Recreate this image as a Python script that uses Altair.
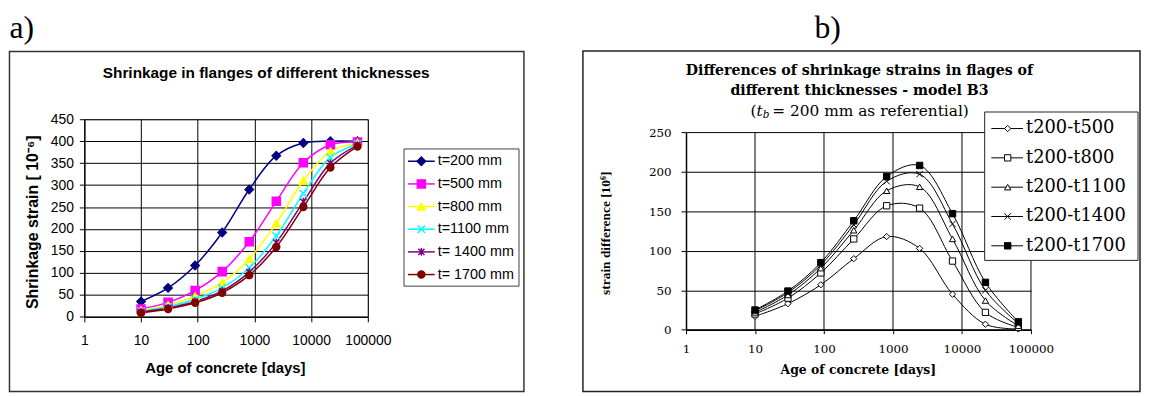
import altair as alt
import pandas as pd

# ---------------- data ----------------
ages = [10, 30, 90, 270, 810, 2430, 7290, 21870, 65610]

left_series = ["t=200 mm", "t=500 mm", "t=800 mm", "t=1100 mm", "t= 1400 mm", "t= 1700 mm"]
t200 = [35, 66, 117, 192, 290, 367, 396, 400, 400]
t500 = [18, 33, 60, 103, 171, 263, 351, 392, 398]
t800 = [15, 27, 47, 78, 132, 213, 310, 377, 396]
t1100 = [13, 23, 40, 66, 112, 184, 281, 363, 394]
t1400 = [11, 20, 35, 59, 102, 169, 262, 350, 391]
t1700 = [9, 18, 32, 55, 95, 159, 250, 340, 388]
left_values = [t200, t500, t800, t1100, t1400, t1700]

right_series = ["t200-t500", "t200-t800", "t200-t1100", "t200-t1400", "t200-t1700"]
d500 = [17, 33, 57, 90, 118, 103, 45, 7, 1]
d800 = [20, 40, 72, 115, 157, 154, 87, 22, 3]
d1100 = [22, 44, 78, 126, 176, 181, 115, 37, 5]
d1400 = [24, 47, 82, 133, 188, 197, 134, 50, 8]
d1700 = [25, 49, 85, 138, 194, 208, 147, 60, 10]
right_values = [d500, d800, d1100, d1400, d1700]

x_ticks = [1, 10, 100, 1000, 10000, 100000]
x_inner_grid = [10, 100, 1000, 10000]
left_y_ticks = [0, 50, 100, 150, 200, 250, 300, 350, 400, 450]
right_y_ticks = [0, 50, 100, 150, 200, 250]

left_colors = ["#000080", "#FF00FF", "#FFFF00", "#00FFFF", "#800080", "#800000"]
X_PATH = "M-1,-1L1,1M-1,1L1,-1"
STAR_PATH = "M-0.85,-0.85L0.85,0.85M-0.85,0.85L0.85,-0.85M0,-1.1L0,1.1"
left_shapes = ["diamond", "square", "triangle-up", X_PATH, STAR_PATH, "circle"]
left_sizes = [70, 49, 60, 50, 55, 64]

right_shapes = ["diamond", "square", "triangle-up", X_PATH, "square"]
right_fills = ["white", "white", "white", "white", "black"]
right_sizes = [40, 42, 52, 36, 56]


def long_df(key, names, vals):
    rows = []
    for n, v in zip(names, vals):
        for a, y in zip(ages, v):
            rows.append({key: n, "age": a, "value": y})
    return pd.DataFrame(rows)


df_l = long_df("series", left_series, left_values)
df_r = long_df("pair", right_series, right_values)
leg_l = pd.DataFrame({"series": left_series})
leg_r = pd.DataFrame({"pair": right_series})
grid_r = pd.DataFrame({"age": x_inner_grid})
one = pd.DataFrame({"k": [0]})

SANS = "Liberation Sans"
SERIF = "Liberation Serif"
WIDE = "DejaVu Serif"


def txt(s, x, y, size, font, weight="normal", align="center", baseline="middle",
        angle=0, style="normal"):
    kw = dict(text=s, fontSize=size, font=font, fontWeight=weight, align=align,
              baseline=baseline, color="black", fontStyle=style)
    if angle:
        kw["angle"] = angle
    return alt.Chart(one).mark_text(**kw).encode(x=alt.value(x), y=alt.value(y))


def frame(x1, x2, y1, y2, color, width, fill="transparent"):
    return alt.Chart(one).mark_rect(fill=fill, stroke=color, strokeWidth=width).encode(
        x=alt.value(x1), x2=alt.value(x2), y=alt.value(y1), y2=alt.value(y2))


LABEL_Y = 11.5  # page y of the panel letters (top baseline)

# ---------------- left panel ----------------
WL, HL = 286, 199.4
OX_L, OY_L = 83.5, 118.3
col_l = alt.Scale(domain=left_series, range=left_colors)
shp_l = alt.Scale(domain=left_series, range=left_shapes)
siz_l = alt.Scale(domain=left_series, range=left_sizes)
xs_l = alt.Scale(type="log", domain=[1, 100000], nice=False)
ys_l = alt.Scale(domain=[0, 450], nice=False, zero=True)

x_axis_l = alt.Axis(values=x_ticks, format="d", grid=True, gridColor="black", gridOpacity=1,
                    gridWidth=1, domainColor="black", tickColor="black", tickSize=5,
                    labelFont=SANS, labelFontSize=14, labelColor="black", labelPadding=12,
                    labelFlush=False, labelOverlap=False, title=None)
y_axis_l = alt.Axis(values=left_y_ticks, grid=True, gridColor="black", gridOpacity=1,
                    gridWidth=1, domainColor="black", tickColor="black", tickSize=5,
                    labelFont=SANS, labelFontSize=14, labelColor="black", labelPadding=6,
                    labelFlush=False, labelOverlap=False, title=None)

lines_l = alt.Chart(df_l).mark_line(interpolate="catmull-rom", strokeWidth=1.5).encode(
    x=alt.X("age:Q", scale=xs_l, axis=x_axis_l),
    y=alt.Y("value:Q", scale=ys_l, axis=y_axis_l),
    color=alt.Color("series:N", scale=col_l, legend=None),
    detail="series:N",
)
pts_l = alt.Chart(df_l).mark_point(filled=True, opacity=1, strokeWidth=1.5).encode(
    x=alt.X("age:Q", scale=xs_l, axis=x_axis_l),
    y=alt.Y("value:Q", scale=ys_l, axis=None),
    color=alt.Color("series:N", scale=col_l, legend=None),
    stroke=alt.Stroke("series:N", scale=col_l, legend=None),
    shape=alt.Shape("series:N", scale=shp_l, legend=None),
    size=alt.Size("series:N", scale=siz_l, legend=None),
)

ly_l = alt.Y("series:N", scale=alt.Scale(type="point", domain=left_series,
                                         range=[160.7 - OY_L, 275.0 - OY_L], padding=0),
             axis=None)
legbox_l = frame(406 - OX_L, 522 - OX_L, 148.3 - OY_L, 286.7 - OY_L, "#404040", 1, fill="white")
leglines_l = alt.Chart(leg_l).mark_rule(strokeWidth=1.5).encode(
    x=alt.value(410 - OX_L), x2=alt.value(437 - OX_L), y=ly_l,
    color=alt.Color("series:N", scale=col_l, legend=None))
legpts_l = alt.Chart(leg_l).mark_point(filled=True, opacity=1, strokeWidth=1.5).encode(
    x=alt.value(423.5 - OX_L), y=ly_l,
    color=alt.Color("series:N", scale=col_l, legend=None),
    stroke=alt.Stroke("series:N", scale=col_l, legend=None),
    shape=alt.Shape("series:N", scale=shp_l, legend=None),
    size=alt.Size("series:N", scale=siz_l, legend=None))
legtxt_l = alt.Chart(leg_l).mark_text(align="left", baseline="middle", font=SANS,
                                      fontSize=14.5, color="black").encode(
    x=alt.value(440 - OX_L), y=ly_l, text="series:N")

left = alt.layer(
    frame(8 - OX_L, 527 - OX_L, 50 - OY_L, 393 - OY_L, "#333333", 1.5),
    lines_l, pts_l,
    legbox_l, leglines_l, legpts_l, legtxt_l,
    txt("a)", 8 - OX_L, LABEL_Y - OY_L, 32, SERIF, align="left", baseline="top"),
    txt("Shrinkage in flanges of different thicknesses", 267 - OX_L, 71.7 - OY_L, 15.5, SANS,
        weight="bold"),
    txt("Shrinkage strain [ 10\u207b\u2076]", 31.7 - OX_L, 222.3 - OY_L, 16, SANS,
        weight="bold", angle=270),
    txt("Age of concrete [days]", 225.8 - OX_L, 369.3 - OY_L, 15, SANS, weight="bold"),
).resolve_scale(y="independent").properties(
    width=WL, height=HL, view=alt.ViewBackground(stroke="#808080", strokeWidth=1))

# ---------------- right panel ----------------
# view spans page y 118.3 .. 330.7 ; the data range (0..250) spans 131.5 .. 330.7
OX_R, OY_R = 687, 118.3
WR, HR = 348, 212.4
Y_TOP = 131.5 - OY_R
shp_r = alt.Scale(domain=right_series, range=right_shapes)
fil_r = alt.Scale(domain=right_series, range=right_fills)
siz_r = alt.Scale(domain=right_series, range=right_sizes)
xs_r = alt.Scale(type="log", domain=[1, 100000], nice=False)
ys_r = alt.Scale(domain=[0, 250], nice=False, zero=True, range=[HR, Y_TOP])

x_axis_r = alt.Axis(values=x_ticks, format="d", grid=False, domainColor="black",
                    domainWidth=1.5, tickColor="black", tickSize=4, labelFont=WIDE,
                    labelFontSize=12, labelColor="black", labelPadding=10,
                    labelFlush=False, labelOverlap=False, title=None)
y_axis_r = alt.Axis(values=right_y_ticks, grid=True, gridColor="black", gridOpacity=1,
                    gridWidth=1, domainColor="black", domainWidth=1.5, tickColor="black",
                    tickSize=5, labelFont=WIDE, labelFontSize=12, labelColor="black",
                    labelPadding=10, labelFlush=False, labelOverlap=False, title=None)

vgrid_r = alt.Chart(grid_r).mark_rule(color="black", strokeWidth=1).encode(
    x=alt.X("age:Q", scale=xs_r, axis=x_axis_r),
    y=alt.value(Y_TOP), y2=alt.value(HR))
lines_r = alt.Chart(df_r).mark_line(interpolate="catmull-rom", strokeWidth=1, color="black").encode(
    x=alt.X("age:Q", scale=xs_r, axis=x_axis_r),
    y=alt.Y("value:Q", scale=ys_r, axis=y_axis_r),
    detail="pair:N",
)
pts_r = alt.Chart(df_r).mark_point(filled=True, opacity=1, stroke="black", strokeWidth=1).encode(
    x=alt.X("age:Q", scale=xs_r, axis=x_axis_r),
    y=alt.Y("value:Q", scale=ys_r, axis=None),
    fill=alt.Fill("pair:N", scale=fil_r, legend=None),
    shape=alt.Shape("pair:N", scale=shp_r, legend=None),
    size=alt.Size("pair:N", scale=siz_r, legend=None),
)

ly_r = alt.Y("pair:N", scale=alt.Scale(type="point", domain=right_series,
                                       range=[127.7 - OY_R, 246.0 - OY_R], padding=0),
             axis=None)
legbox_r = frame(988.3 - OX_R, 1143 - OX_R, 111 - OY_R, 260.7 - OY_R, "#222222", 1, fill="white")
leglines_r = alt.Chart(leg_r).mark_rule(strokeWidth=1, color="black").encode(
    x=alt.value(995 - OX_R), x2=alt.value(1027 - OX_R), y=ly_r)
legpts_r = alt.Chart(leg_r).mark_point(filled=True, opacity=1, stroke="black", strokeWidth=1).encode(
    x=alt.value(1011.5 - OX_R), y=ly_r,
    fill=alt.Fill("pair:N", scale=fil_r, legend=None),
    shape=alt.Shape("pair:N", scale=shp_r, legend=None),
    size=alt.Size("pair:N", scale=siz_r, legend=None))
legtxt_r = alt.Chart(leg_r).mark_text(align="left", baseline="middle", font=WIDE,
                                      fontSize=18, color="black").encode(
    x=alt.value(1030 - OX_R), y=ly_r, text="pair:N")

right_border = alt.Chart(one).mark_rule(color="black", strokeWidth=1).encode(
    x=alt.value(WR), y=alt.value(Y_TOP), y2=alt.value(HR))

right = alt.layer(
    frame(583 - OX_R, 1145 - OX_R, 49.5 - OY_R, 393 - OY_R, "#222222", 1.5),
    vgrid_r, right_border,
    lines_r, pts_r,
    legbox_r, leglines_r, legpts_r, legtxt_r,
    txt("b)", 816.5 - OX_R, LABEL_Y - OY_R, 32, SERIF, align="left", baseline="top"),
    txt("Differences of shrinkage strains in flages of", 862 - OX_R, 70 - OY_R, 14.3, WIDE,
        weight="bold"),
    txt("different thicknesses - model B3", 862 - OX_R, 90 - OY_R, 14.3, WIDE, weight="bold"),
    txt("(", 752 - OX_R, 110 - OY_R, 15.5, WIDE, align="left"),
    txt("t", 758 - OX_R, 110 - OY_R, 15.5, WIDE, align="left", style="italic"),
    txt("b", 764.5 - OX_R, 114.5 - OY_R, 10.5, WIDE, align="left", style="italic"),
    txt("= 200 mm as referential)", 774 - OX_R, 110 - OY_R, 15.5, WIDE, align="left"),
    txt("strain difference  [10\u2076]", 606.7 - OX_R, 233.3 - OY_R, 13.5, SERIF,
        weight="bold", angle=270),
    txt("Age of concrete [days]", 860.8 - OX_R, 371 - OY_R, 12.5, WIDE, weight="bold"),
).resolve_scale(y="independent").properties(
    width=WR, height=HR, view=alt.ViewBackground(strokeOpacity=0))

chart = alt.hconcat(left, right, spacing=57).resolve_scale(
    x="independent", y="independent", color="independent", shape="independent",
    size="independent", fill="independent", stroke="independent"
).properties(padding={"left": 0, "top": 1.5, "right": 0, "bottom": 0}, background="white")

chart.save("out.html", embed_options={"renderer": "svg", "actions": False})
